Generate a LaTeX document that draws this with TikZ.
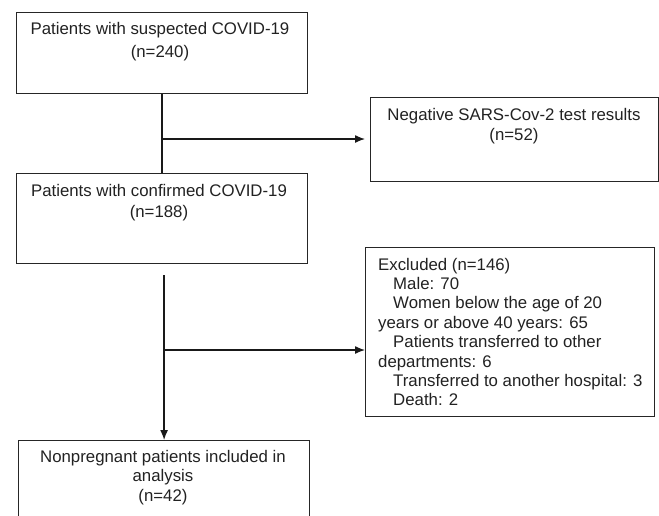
\documentclass[tikz,border=0pt]{standalone}
\usepackage{fontspec}
\setmainfont{Liberation Sans}
\usetikzlibrary{arrows.meta}
\definecolor{inkc}{HTML}{222222}
\tikzset{
  box/.style={draw=black!85, line width=1.2pt, rectangle, inner sep=0pt, anchor=north west},
  txt/.style={text=inkc, inner sep=0pt, font=\fontsize{16.8}{20}\selectfont},
  conn/.style={draw=black!90, line width=1.3pt},
  arr/.style={conn, -{Latex[length=10pt,width=8pt]}}
}
\begin{document}
\begin{tikzpicture}[x=1pt,y=-1pt]
\clip (0,0) rectangle (659,515);
\fill[white] (0,0) rectangle (659,515);
% boxes
\node[box, minimum width=291pt, minimum height=81pt] (b1) at (16,12) {};
\node[box, minimum width=288pt, minimum height=84pt] (b2) at (370,97) {};
\node[box, minimum width=291pt, minimum height=90pt] (b3) at (16,173) {};
\node[box, minimum width=289pt, minimum height=169pt] (b4) at (365,247) {};
\node[box, minimum width=291pt, minimum height=100pt] (b5) at (18,440) {};
% texts (base anchor = baseline of last line)
\node[txt, align=center, anchor=base, font=\fontsize{16.8}{23}\selectfont] (t1) at (160,57.5) {Patients with suspected COVID-19\\(n=240)};
\node[txt, align=center, anchor=base] (t2) at (514,140) {Negative SARS-Cov-2 test results\\(n=52)};
\node[txt, align=center, anchor=base, font=\fontsize{16.8}{21}\selectfont] (t3) at (159,217) {Patients with confirmed COVID-19\\(n=188)};
\node[txt, align=left, anchor=base west, font=\fontsize{16.8}{19.4}\selectfont] (t4) at (378,405.8) {Excluded (n=146)\\
\hspace*{15pt}Male: 70\\
\hspace*{15pt}Women below the age of 20\\
years or above 40 years: 65\\
\hspace*{15pt}Patients transferred to other\\
departments: 6\\
\hspace*{15pt}Transferred to another hospital: 3\\
\hspace*{15pt}Death: 2};
\node[txt, align=center, anchor=base, font=\fontsize{16.8}{19.5}\selectfont] (t5) at (163,501) {Nonpregnant patients included in\\analysis\\(n=42)};
% connectors
\coordinate (j1) at (161.5,139);
\coordinate (j2) at (163,350);
\draw[conn] (b1.south) -- (b3.north);
\draw[arr, shorten >=5pt] (j1) -- (b2.west |- j1);
\draw[arr, shorten <=11pt] (b3.south -| b5.north) -- (b5.north);
\draw[arr] (j2) -- (j2 -| b4.west);
\end{tikzpicture}
\end{document}
